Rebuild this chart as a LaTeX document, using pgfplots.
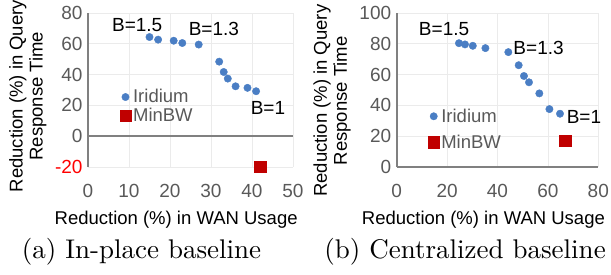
\documentclass[border=0pt]{standalone}
\usepackage{fontspec}
\usepackage{pgfplots}
\pgfplotsset{compat=1.18}
\newfontfamily\arial{Liberation Sans}
\newfontfamily\capfont{lmroman10-regular.otf}
\definecolor{irblue}{RGB}{74,126,196}
\definecolor{mbred}{RGB}{192,0,0}
\definecolor{tickgray}{RGB}{89,89,89}
\definecolor{axgray}{RGB}{128,128,128}
\definecolor{gridgray}{RGB}{235,235,235}
\tikzset{blab/.style={anchor=center, font=\arial\fontsize{19}{20}\selectfont}}
\pgfplotsset{
  myaxis/.style={
    scale only axis,
    axis line style={draw=none},
    major tick length=0pt,
    grid=major,
    grid style={gridgray, line width=0.8pt},
    font=\arial\fontsize{18.5}{20}\selectfont,
    /pgf/number format/assume math mode=true,
    ticklabel style={font=\arial\fontsize{19}{20}\selectfont, text=tickgray},
    xticklabel style={yshift=-14pt},
    yticklabel style={xshift=-2pt},
    ylabel style={align=center, rotate=0},
    legend style={draw=none, fill=none, font=\arial\fontsize{18.5}{20}\selectfont, text=tickgray,
      /tikz/every even column/.append style={column sep=4pt}},
    legend cell align=left,
    clip=false,
  },
  irid/.style={only marks, mark=*, mark size=3.7pt, mark options={draw=irblue, fill=irblue}},
  minbw/.style={only marks, mark=square*, mark size=5.6pt, mark options={draw=mbred, fill=mbred}},
}
\begin{document}
\begin{tikzpicture}
\useasboundingbox (0pt,0pt) rectangle (611pt,274pt);
% ---------- (a) ----------
\begin{axis}[myaxis,
  at={(88pt,107pt)}, anchor=south west,
  width=205pt, height=154pt,
  xmin=0, xmax=50, ymin=-20, ymax=80,
  xtick={0,10,20,30,40,50},
  ytick={-20,0,20,40,60,80},
  yticklabels={\textcolor{red}{-20},0,20,40,60,80},
  xlabel={Reduction (\%) in WAN Usage},
  xlabel style={at={(rel axis cs:0.43,0)}, anchor=center, yshift=-53pt},
  ylabel={Reduction (\%) in Query\\Response Time},
  ylabel style={at={(rel axis cs:-0.293,0.46)}, anchor=center, rotate=0},
  legend style={at={(rel axis cs:0.14,0.53)}, anchor=north west, row sep=0pt},
]
\draw[axgray, line width=2pt] (axis cs:0,-20) -- (axis cs:0,80);
\draw[axgray, line width=2pt] (axis cs:0,0) -- (axis cs:50,0);
\addplot[irid] coordinates {
(15.0,64.4) (17.1,62.7) (20.9,62.0) (23.0,60.5) (27.0,59.5)
(32.0,48.4) (33.1,41.7) (34.1,37.4) (36.0,32.4) (38.9,31.4) (41.0,29.2)};
\addlegendentry{Iridium}
\addplot[minbw] coordinates {(42.0,-19.7)};
\addlegendentry{MinBW}
\node[blab] at (axis cs:12.0,72.2) {B=1.5};
\node[blab] at (axis cs:30.7,69.6) {B=1.3};
\node[blab] at (axis cs:43.9,18.3) {B=1};
\end{axis}
% ---------- (b) ----------
\begin{axis}[myaxis,
  at={(396.7pt,107pt)}, anchor=south west,
  width=201.6pt, height=154pt,
  xmin=0, xmax=80, ymin=0, ymax=100,
  xtick={0,20,40,60,80},
  ytick={0,20,40,60,80,100},
  xlabel={Reduction (\%) in WAN Usage},
  xlabel style={at={(rel axis cs:0.43,0)}, anchor=center, yshift=-53pt},
  ylabel={Reduction (\%) in Query\\Response Time},
  ylabel style={at={(rel axis cs:-0.32,0.43)}, anchor=center, rotate=0},
  legend style={at={(rel axis cs:0.14,0.405)}, anchor=north west, row sep=7pt},
]
\draw[axgray, line width=2pt] (axis cs:0,0) -- (axis cs:0,100);
\draw[axgray, line width=2pt] (axis cs:0,0) -- (axis cs:80,0);
\addplot[irid] coordinates {
(24.7,80.4) (27.1,79.6) (30.2,78.7) (35.2,77.2) (44.3,74.6)
(48.4,66.1) (50.5,59.1) (52.5,55.0) (56.6,47.8) (60.6,37.6) (64.8,34.6)};
\addlegendentry{Iridium}
\addplot[minbw] coordinates {(66.9,17.2)};
\addlegendentry{MinBW}
\node[blab] at (axis cs:18.8,89.8) {B=1.5};
\node[blab] at (axis cs:56.3,77.6) {B=1.3};
\node[blab] at (axis cs:74.3,32.6) {B=1};
\end{axis}
\node[font=\capfont\fontsize{27}{30}\selectfont] at (141.5pt,22pt) {(a) In-place baseline};
\node[font=\capfont\fontsize{27}{30}\selectfont] at (465pt,22pt) {(b) Centralized baseline};
\end{tikzpicture}
\end{document}
